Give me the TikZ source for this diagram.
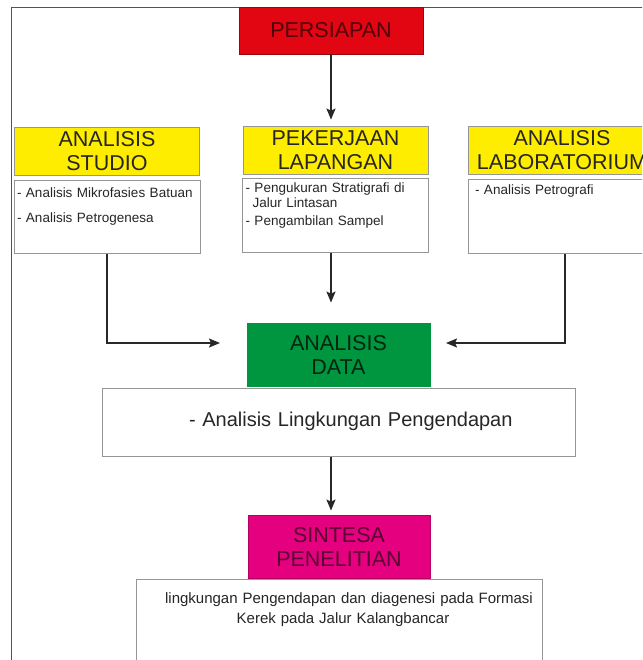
\documentclass[tikz,border=0pt]{standalone}
\usepackage{fontspec}
\setmainfont{Liberation Sans}
\usetikzlibrary{arrows.meta, positioning}
\usepackage{xcolor}
\definecolor{prepred}{RGB}{226,6,19}
\definecolor{headyellow}{RGB}{255,237,0}
\definecolor{datagreen}{RGB}{0,150,64}
\definecolor{synthpink}{RGB}{228,0,126}
\definecolor{boxgray}{RGB}{150,150,150}
\definecolor{linegray}{RGB}{40,40,40}

\begin{document}
\begin{tikzpicture}[x=1pt, y=-1pt,
    head/.style={draw=boxgray, line width=0.8pt, minimum width=185pt,
        minimum height=48pt, inner sep=0pt, align=center,
        font=\fontsize{21.5}{24}\selectfont, text=black!85},
    body/.style={draw=boxgray, line width=0.8pt, fill=white,
        minimum width=186pt, inner xsep=3pt, inner ysep=0pt,
        text width=180pt, align=left,
        font=\fontsize{13.5}{15}\selectfont, text=black!85},
    arr/.style={-{Stealth[length=11pt, width=9pt, inset=2pt]},
        line width=1.6pt, draw=linegray}]

    \useasboundingbox (0,0) rectangle (642,660);
    \clip (0,0) rectangle (642,660);
    \draw[linegray!80, line width=0.8pt] (11,7) rectangle (700,720);

    \node[head, fill=prepred, draw=prepred!70!black, minimum width=184pt,
        minimum height=47pt, text=prepred!35!black] (persiapan) at (331,30.5) {PERSIAPAN};

    \node[head, fill=headyellow] (studio) at (107,151.5) {ANALISIS\\STUDIO};
    \node[head, fill=headyellow] (lapangan) at (335.5,150) {PEKERJAAN\\LAPANGAN};
    \node[head, fill=headyellow, minimum width=188pt] (lab) at (562,150.5) {ANALISIS\\LABORATORIUM};

    \node[body, below=4pt of studio, text height=17pt, text depth=56pt] (studio-body)
        {- Analisis Mikrofasies Batuan\\[10pt]- Analisis Petrogenesa};
    \node[body, below=4pt of lapangan, text height=14pt, text depth=60pt] (lapangan-body)
        {- Pengukuran Stratigrafi di\\\hspace*{7pt}Jalur Lintasan\\[3pt]- Pengambilan Sampel};
    \node[body, below=4pt of lab, inner xsep=7pt, text width=174pt, minimum width=188pt,
        text height=15pt, text depth=59pt] (lab-body) {- Analisis Petrografi};

    \node[head, fill=datagreen, draw=datagreen, minimum width=183pt, minimum height=63pt,
        text=datagreen!25!black] (data) at (338.5,354.5) {ANALISIS\\DATA};
    \node[body, below=2pt of data, minimum width=473pt, text width=465pt,
        font=\fontsize{20}{22}\selectfont, text height=38pt, text depth=30pt] (data-body)
        {\hspace*{83pt}- Analisis Lingkungan Pengendapan};

    \node[head, fill=synthpink, draw=synthpink!80!black, minimum width=182pt,
        minimum height=63pt, text=synthpink!40!black] (sintesa) at (339,546.5) {SINTESA\\PENELITIAN};
    \node[body, below=1pt of sintesa, minimum width=406pt, inner xsep=1pt, text width=404pt,
        align=center, font=\fontsize{15}{20}\selectfont, text height=24pt, text depth=100pt]
        (sintesa-body)
        {\hspace*{20pt}lingkungan Pengendapan dan diagenesi pada Formasi\\\hspace*{8pt}Kerek pada Jalur Kalangbancar};

    \coordinate (in-left) at (220,343);
    \coordinate (in-right) at (446,343);

    \draw[arr, shorten >=6pt] (persiapan.south) -- (persiapan.south |- lapangan.north);
    \draw[arr] (studio-body.south) |- (in-left);
    \draw[arr] ([xshift=3pt]lab-body.south) |- (in-right);
    \draw[arr, shorten >=20pt] (lapangan-body.south -| persiapan.south) -- (data.north -| persiapan.south);
    \draw[arr, shorten >=4pt] (data-body.south -| persiapan.south) -- (sintesa.north -| persiapan.south);

\end{tikzpicture}
\end{document}
